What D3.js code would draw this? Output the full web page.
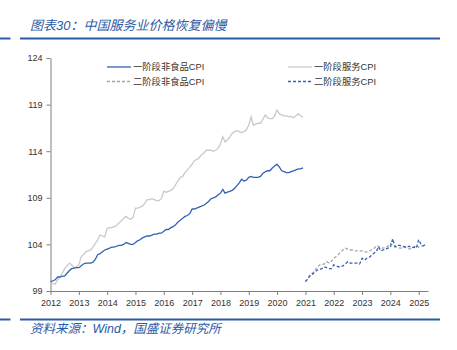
<!DOCTYPE html>
<html>
<head>
<meta charset="utf-8">
<script src="https://cdn.jsdelivr.net/npm/d3@7"></script>
<style>
  body { margin: 0; background: #fff; }
  svg text { font-family: "Liberation Sans", Arial, "Noto Sans CJK SC", sans-serif; }
</style>
</head>
<body>
<svg id="chart" width="457" height="350"></svg>
<script>
var titleText = "图表30：中国服务业价格恢复偏慢";
var sourceText = "资料来源：Wind，国盛证券研究所";

var yTicks = [99, 104, 109, 114, 119, 124];
var xYears = [2012, 2013, 2014, 2015, 2016, 2017, 2018, 2019, 2020, 2021, 2022, 2023, 2024, 2025];

var seriesNames = ["一阶段非食品CPI", "一阶段服务CPI", "二阶段非食品CPI", "二阶段服务CPI"];

// stage 1: monthly, 2012-01 .. 2020-12
var stage1NonFood = [
  100.0, 100.1, 100.2, 100.5, 100.5, 100.6, 100.6, 100.9, 101.2, 101.4, 101.45, 101.5,
  101.5, 101.7, 101.9, 102.0, 102.0, 102.0, 102.1, 102.4, 102.9, 103.0, 103.2, 103.4,
  103.5, 103.6, 103.7, 103.7, 103.8, 103.9, 103.9, 104.0, 104.2, 104.1, 104.0, 104.0,
  104.2, 104.4, 104.5, 104.7, 104.8, 104.9, 104.9, 105.0, 105.1, 105.1, 105.2, 105.2,
  105.4, 105.6, 105.6, 105.8, 105.9, 106.1, 106.4, 106.6, 106.8, 107.0, 107.1, 107.3,
  107.8, 107.8, 107.9, 108.0, 108.1, 108.2, 108.4, 108.6, 108.9, 109.0, 109.1, 109.3,
  109.5, 109.9, 109.5, 109.6, 109.7, 109.8, 110.0, 110.3, 110.6, 111.0, 110.8, 110.9,
  111.2, 111.3, 111.2, 111.2, 111.2, 111.3, 111.6, 111.8, 111.9, 111.9, 112.2, 112.4,
  112.6, 112.3, 111.9, 111.8, 111.7, 111.7, 111.8, 111.9, 112.0, 112.1, 112.1, 112.2
];
var stage1Service = [
  100.0, 99.8, 99.75, 100.2, 100.5, 100.9, 101.4, 101.7, 102.0, 101.8, 101.5, 101.6,
  101.8, 102.7, 102.9, 103.2, 103.3, 103.4, 103.7, 104.1, 104.5, 105.0, 104.9, 104.8,
  105.7, 105.8, 105.8, 105.9, 106.0, 106.3, 106.5, 106.8, 107.0, 106.8, 106.7, 106.9,
  107.9, 107.9, 108.0, 108.1, 108.4, 108.8, 108.8, 108.9, 108.8, 108.7, 108.7, 108.9,
  109.7, 109.6, 109.7, 109.8, 110.0, 110.4, 110.8, 111.2, 111.3, 111.7, 112.0, 112.3,
  112.6, 113.0, 113.1, 113.3, 113.6, 113.8, 114.1, 114.1, 114.1, 114.0, 114.1, 114.3,
  114.8, 115.55, 115.0, 115.2, 115.5, 115.9, 116.1, 116.2, 116.1, 116.0, 116.1, 116.3,
  116.8, 117.7, 116.8, 116.9, 117.0, 117.0, 117.4, 117.9, 117.6, 117.5, 117.5, 117.8,
  118.4, 118.0, 117.9, 117.8, 117.8, 117.7, 117.7, 117.6, 117.8, 118.0, 117.8, 117.65
];

// stage 2: monthly, 2021-01 .. 2025-04
var stage2NonFood = [
  100.0, 100.3, 100.6, 100.9, 101.2, 101.5, 101.8, 101.8, 101.9, 102.15, 102.0, 102.2,
  102.5, 102.7, 102.9, 103.2, 103.4, 103.6, 103.5, 103.4, 103.4, 103.3, 103.3, 103.3,
  103.3, 103.2, 103.2, 103.3, 103.4, 103.5, 103.85, 103.8, 103.6, 103.6, 103.7, 103.8,
  104.1, 103.9, 103.75, 103.7, 103.6, 103.6, 103.7, 103.6, 103.5, 103.6, 103.7, 103.9,
  103.7, 103.8, 103.85, 103.9
];
var stage2Service = [
  100.0, 100.3, 100.7, 100.8, 101.0, 101.25, 101.3, 101.4, 101.6, 101.5, 101.4, 101.4,
  101.8, 101.7, 101.6, 101.6, 101.7, 101.9, 102.15, 102.0, 102.0, 102.0, 102.0, 101.9,
  102.5, 102.3, 102.5, 102.6, 102.8, 103.05, 103.2, 103.75, 103.3, 103.4, 103.5, 103.6,
  103.7, 104.6, 103.75, 103.9, 103.9, 103.8, 103.75, 103.7, 103.8, 103.65, 103.7, 103.6,
  104.5, 104.0, 103.85, 104.0
];

var blue = "#3263b3";
var brand = "#2b5aa6";

function toPoints(values, startYear){
  var pts = [];
  for(var i = 0; i < values.length; i++){
    pts.push({d: new Date(startYear, i, 1), v: values[i]});
  }
  return pts;
}

var svg = d3.select('#chart');

// header / footer rules
[38.5, 319.5].forEach(function(y){
  svg.append('line').attr('x1', 0).attr('x2', 10.5).attr('y1', y).attr('y2', y)
    .style('stroke', brand).style('stroke-width', 2);
  svg.append('line').attr('x1', 20).attr('x2', 440).attr('y1', y).attr('y2', y)
    .style('stroke', brand).style('stroke-width', 2);
});
svg.append('text').attr('x', 30).attr('y', 29.5).text(titleText)
  .style('font-size', '13px').style('font-style', 'italic').style('fill', brand);
svg.append('text').attr('x', 30).attr('y', 333).text(sourceText)
  .style('font-size', '12.5px').style('font-style', 'italic').style('fill', brand);

var x = d3.scaleTime()
  .domain([new Date(2012, 0, 1), new Date(2025, 4, 1)])
  .range([50.5, 428]);
var y = d3.scaleLinear().domain([99, 124]).range([291, 58]);

var xAxis = svg.append('g').attr('transform', 'translate(0,291)')
  .call(d3.axisBottom(x).tickValues(xYears.map(function(yr){ return new Date(yr, 0, 1); }))
    .tickFormat(d3.timeFormat('%Y')).tickSize(4).tickSizeOuter(0));
var yAxis = svg.append('g').attr('transform', 'translate(50.5,0)')
  .call(d3.axisLeft(y).tickValues(yTicks).tickSize(4).tickSizeOuter(0).tickPadding(4));
[xAxis, yAxis].forEach(function(g){
  g.select('.domain').style('stroke', '#7f7f7f');
  g.selectAll('.tick line').style('stroke', '#7f7f7f');
  g.selectAll('.tick text').style('font-size', '9px').style('fill', '#333')
    .style('font-family', '"Liberation Sans", Arial, sans-serif');
});
xAxis.selectAll('.tick text').attr('dy', '0.9em');

var lineFunc = d3.line()
  .x(function(d){ return x(d.d); })
  .y(function(d){ return y(d.v); });

var series = [
  {name: seriesNames[0], pts: toPoints(stage1NonFood, 2012), color: blue, dash: null},
  {name: seriesNames[1], pts: toPoints(stage1Service, 2012), color: "#c9c9c9", dash: null},
  {name: seriesNames[2], pts: toPoints(stage2NonFood, 2021), color: "#a5a5a5", dash: "3,2"},
  {name: seriesNames[3], pts: toPoints(stage2Service, 2021), color: blue, dash: "3,2"}
];
// draw order: gray services first so blue sits on top
[1, 0, 2, 3].forEach(function(k){
  var s = series[k];
  svg.append('path')
    .attr('d', lineFunc(s.pts))
    .attr('fill', 'none')
    .attr('stroke', s.color)
    .attr('stroke-width', 1.3)
    .attr('stroke-dasharray', s.dash);
});

// legend: 2 columns x 2 rows
var legendPos = [[107, 67], [288, 67], [107, 81.5], [288, 81.5]];
series.forEach(function(s, k){
  var p = legendPos[k];
  svg.append('line').attr('x1', p[0]).attr('x2', p[0] + 24).attr('y1', p[1]).attr('y2', p[1])
    .attr('stroke', s.color).attr('stroke-width', 1.3).attr('stroke-dasharray', s.dash);
  svg.append('text').attr('x', p[0] + 26).attr('y', p[1] + 3.3).text(s.name)
    .style('font-size', '9.3px').style('fill', '#333');
});
</script>
</body>
</html>
